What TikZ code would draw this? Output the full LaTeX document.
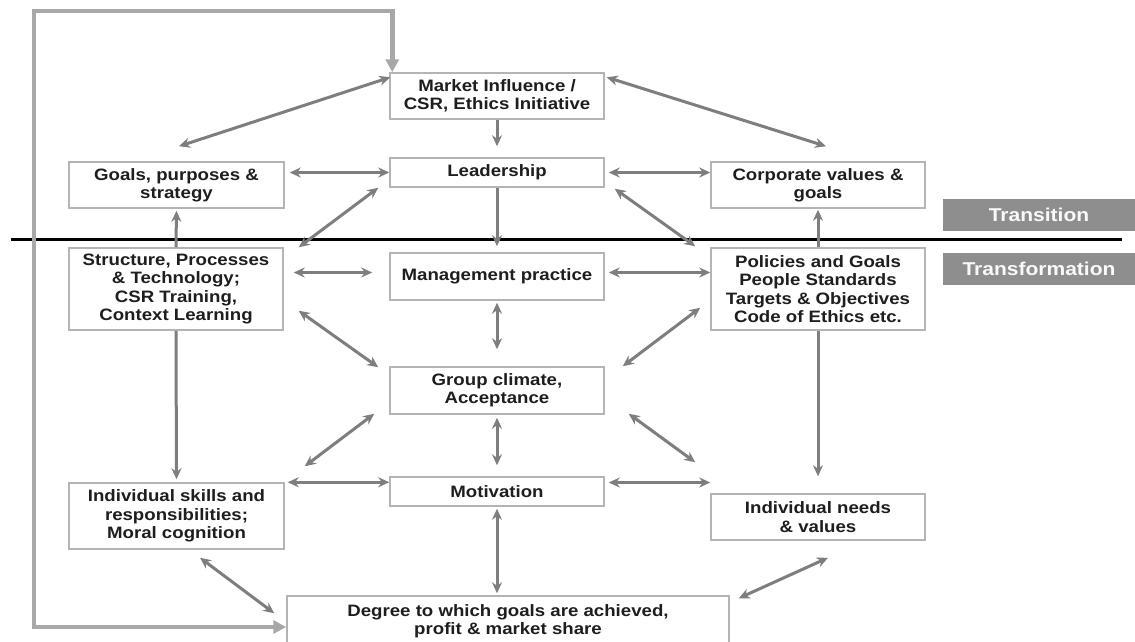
\documentclass[tikz,border=0pt]{standalone}
\usepackage{fontspec}
\setmainfont{Liberation Sans}[FakeStretch=1.13]
\usetikzlibrary{arrows.meta}
\definecolor{boxline}{HTML}{B4B4B4}
\definecolor{arrowgray}{HTML}{7E7E7E}
\definecolor{loopgray}{HTML}{A8A8A8}
\definecolor{tagfill}{HTML}{8E8E8E}
\definecolor{textdark}{HTML}{1E1E1E}
\begin{document}
\begin{tikzpicture}[x=1pt,y=-1pt,
  box/.style={draw=boxline, line width=1.5pt, fill=white, inner sep=0pt, align=center,
    text=textdark, font=\fontsize{16.5}{18.3}\selectfont\bfseries},
  tag/.style={fill=tagfill, inner sep=0pt, minimum width=192pt, minimum height=32pt,
    text=white!95!gray, font=\fontsize{18.6}{20}\selectfont\bfseries},
  link/.style={draw=arrowgray, line width=3pt,
    {Stealth[length=11pt,width=10pt]}-{Stealth[length=11pt,width=10pt]}},
  one/.style={draw=arrowgray, line width=3pt, -{Stealth[length=11pt,width=10pt]}},
  feedback/.style={draw=loopgray, line width=4.5pt,
    {Triangle[length=13pt,width=13pt]}-{Triangle[length=13pt,width=13pt]}},
]
\useasboundingbox (0,0) rectangle (1135,641);
\clip (0,0) rectangle (1135,641);
\fill[white] (0,0) rectangle (1135,641);

% boxes
\node[box, minimum width=214pt, minimum height=46pt] (market) at (497,96) {Market Influence /\\CSR, Ethics Initiative};
\node[box, minimum width=214pt, minimum height=29pt] (lead) at (497,172.5) {Leadership};
\node[box, minimum width=215pt, minimum height=46pt] (goals) at (176.5,185) {Goals, purposes \&\\strategy};
\node[box, minimum width=214pt, minimum height=46pt] (corp) at (818,185) {Corporate values \&\\goals};
\node[box, minimum width=214pt, minimum height=82pt] (struct) at (176,289) {Structure, Processes\\\& Technology;\\CSR Training,\\Context Learning};
\node[box, minimum width=214pt, minimum height=47pt] (mgmt) at (497,276.5) {Management practice};
\node[box, minimum width=214pt, minimum height=82pt] (policies) at (818,289) {Policies and Goals\\People Standards\\Targets \& Objectives\\Code of Ethics etc.};
\node[box, minimum width=214pt, minimum height=47pt] (group) at (497,390.5) {Group climate,\\Acceptance};
\node[box, minimum width=214pt, minimum height=29pt] (motiv) at (497,491.5) {Motivation};
\node[box, minimum width=215pt, minimum height=66pt] (skills) at (176.5,516) {Individual skills and\\responsibilities;\\Moral cognition};
\node[box, minimum width=214pt, minimum height=46pt] (needs) at (818,517) {Individual needs\\\& values};
\node[box, minimum width=442pt, minimum height=50pt] (degree) at (508,621) {Degree to which goals are achieved,\\profit \& market share};

% phase tags and divider
\node[tag] (transition) at (1039,215) {Transition};
\node[tag] (transformation) at (1039,269) {Transformation};
\coordinate (divL) at (11,239);
\coordinate (divR) at (1122,239);
\draw[line width=3pt, black] (divL) -- (divR);

% attachment points a little above the side centres
\coordinate (mgmtW) at ([yshift=4pt]mgmt.west);
\coordinate (mgmtE) at ([yshift=4pt]mgmt.east);
\coordinate (motivE) at ([yshift=9pt]motiv.east);

% one-way vertical links
\draw[one, shorten >=11pt] (market.south) -- (lead.north);
\draw[one, shorten >=6pt] (lead.south) -- (mgmt.north);
\draw[one, shorten >=2pt] (struct.north) -- (goals.south);
\draw[one, shorten >=1pt] (policies.north) -- (corp.south);
\draw[one, shorten >=3pt] (struct.south) -- (skills.north);
\draw[one, shorten >=17pt] (policies.south) -- (needs.north);

% two-way vertical links
\draw[link, shorten <=2pt, shorten >=17pt] (mgmt.south) -- (group.north);
\draw[link, shorten <=3pt, shorten >=11pt] (group.south) -- (motiv.north);
\draw[link, shorten <=2pt, shorten >=2pt] (motiv.south) -- (degree.north -| motiv.south);

% two-way horizontal links
\draw[link, shorten <=5pt] (goals.east |- lead.west) -- (lead.west);
\draw[link, shorten <=4pt] (lead.east) -- (corp.west |- lead.east);
\draw[link, shorten <=10pt, shorten >=17pt] (struct.east |- mgmtW) -- (mgmtW);
\draw[link, shorten <=4pt] (mgmtE) -- (policies.west |- mgmtE);
\draw[link, shorten <=3pt] (skills.north east) -- (motiv.west |- skills.north east);
\draw[link, shorten <=4pt] (motivE) -- (needs.west |- motivE);

% two-way diagonal links
\draw[link] ([shift={(1,5)}]market.north west) -- ([shift={(2.5,-15)}]goals.north);
\draw[link] ([shift={(2,5)}]market.north east) -- ([shift={(8,-15)}]corp.north);
\draw[link] ([shift={(15,0)}]struct.north east) -- ([shift={(-11,0)}]lead.south west);
\draw[link] ([shift={(-15,-1)}]policies.north west) -- ([shift={(10,1)}]lead.south east);
\draw[link] ([shift={(15,-20)}]struct.south east) -- ([shift={(-11,1)}]group.north west);
\draw[link] ([shift={(-10,-23)}]policies.south west) -- ([shift={(18,0)}]group.north east);
\draw[link] ([shift={(20,-16)}]skills.north east) -- ([shift={(-15,-1)}]group.south west);
\draw[link] ([shift={(-15,-31)}]needs.north west) -- ([shift={(24,-1)}]group.south east);
\draw[link] ([shift={(23.5,8)}]skills.south) -- ([shift={(-12,18)}]degree.north west);
\draw[link] ([shift={(10,17)}]needs.south) -- ([shift={(9,3)}]degree.north east);

% feedback loop from outcome back to market influence
\coordinate (loopcorner) at (34,11);
\coordinate (loopstart) at ([shift={(0,6)}]degree.west);
\coordinate (loopend) at ([shift={(3,0)}]market.north west);
\draw[feedback] (loopstart) -| (loopcorner) -| (loopend);
\end{tikzpicture}
\end{document}
